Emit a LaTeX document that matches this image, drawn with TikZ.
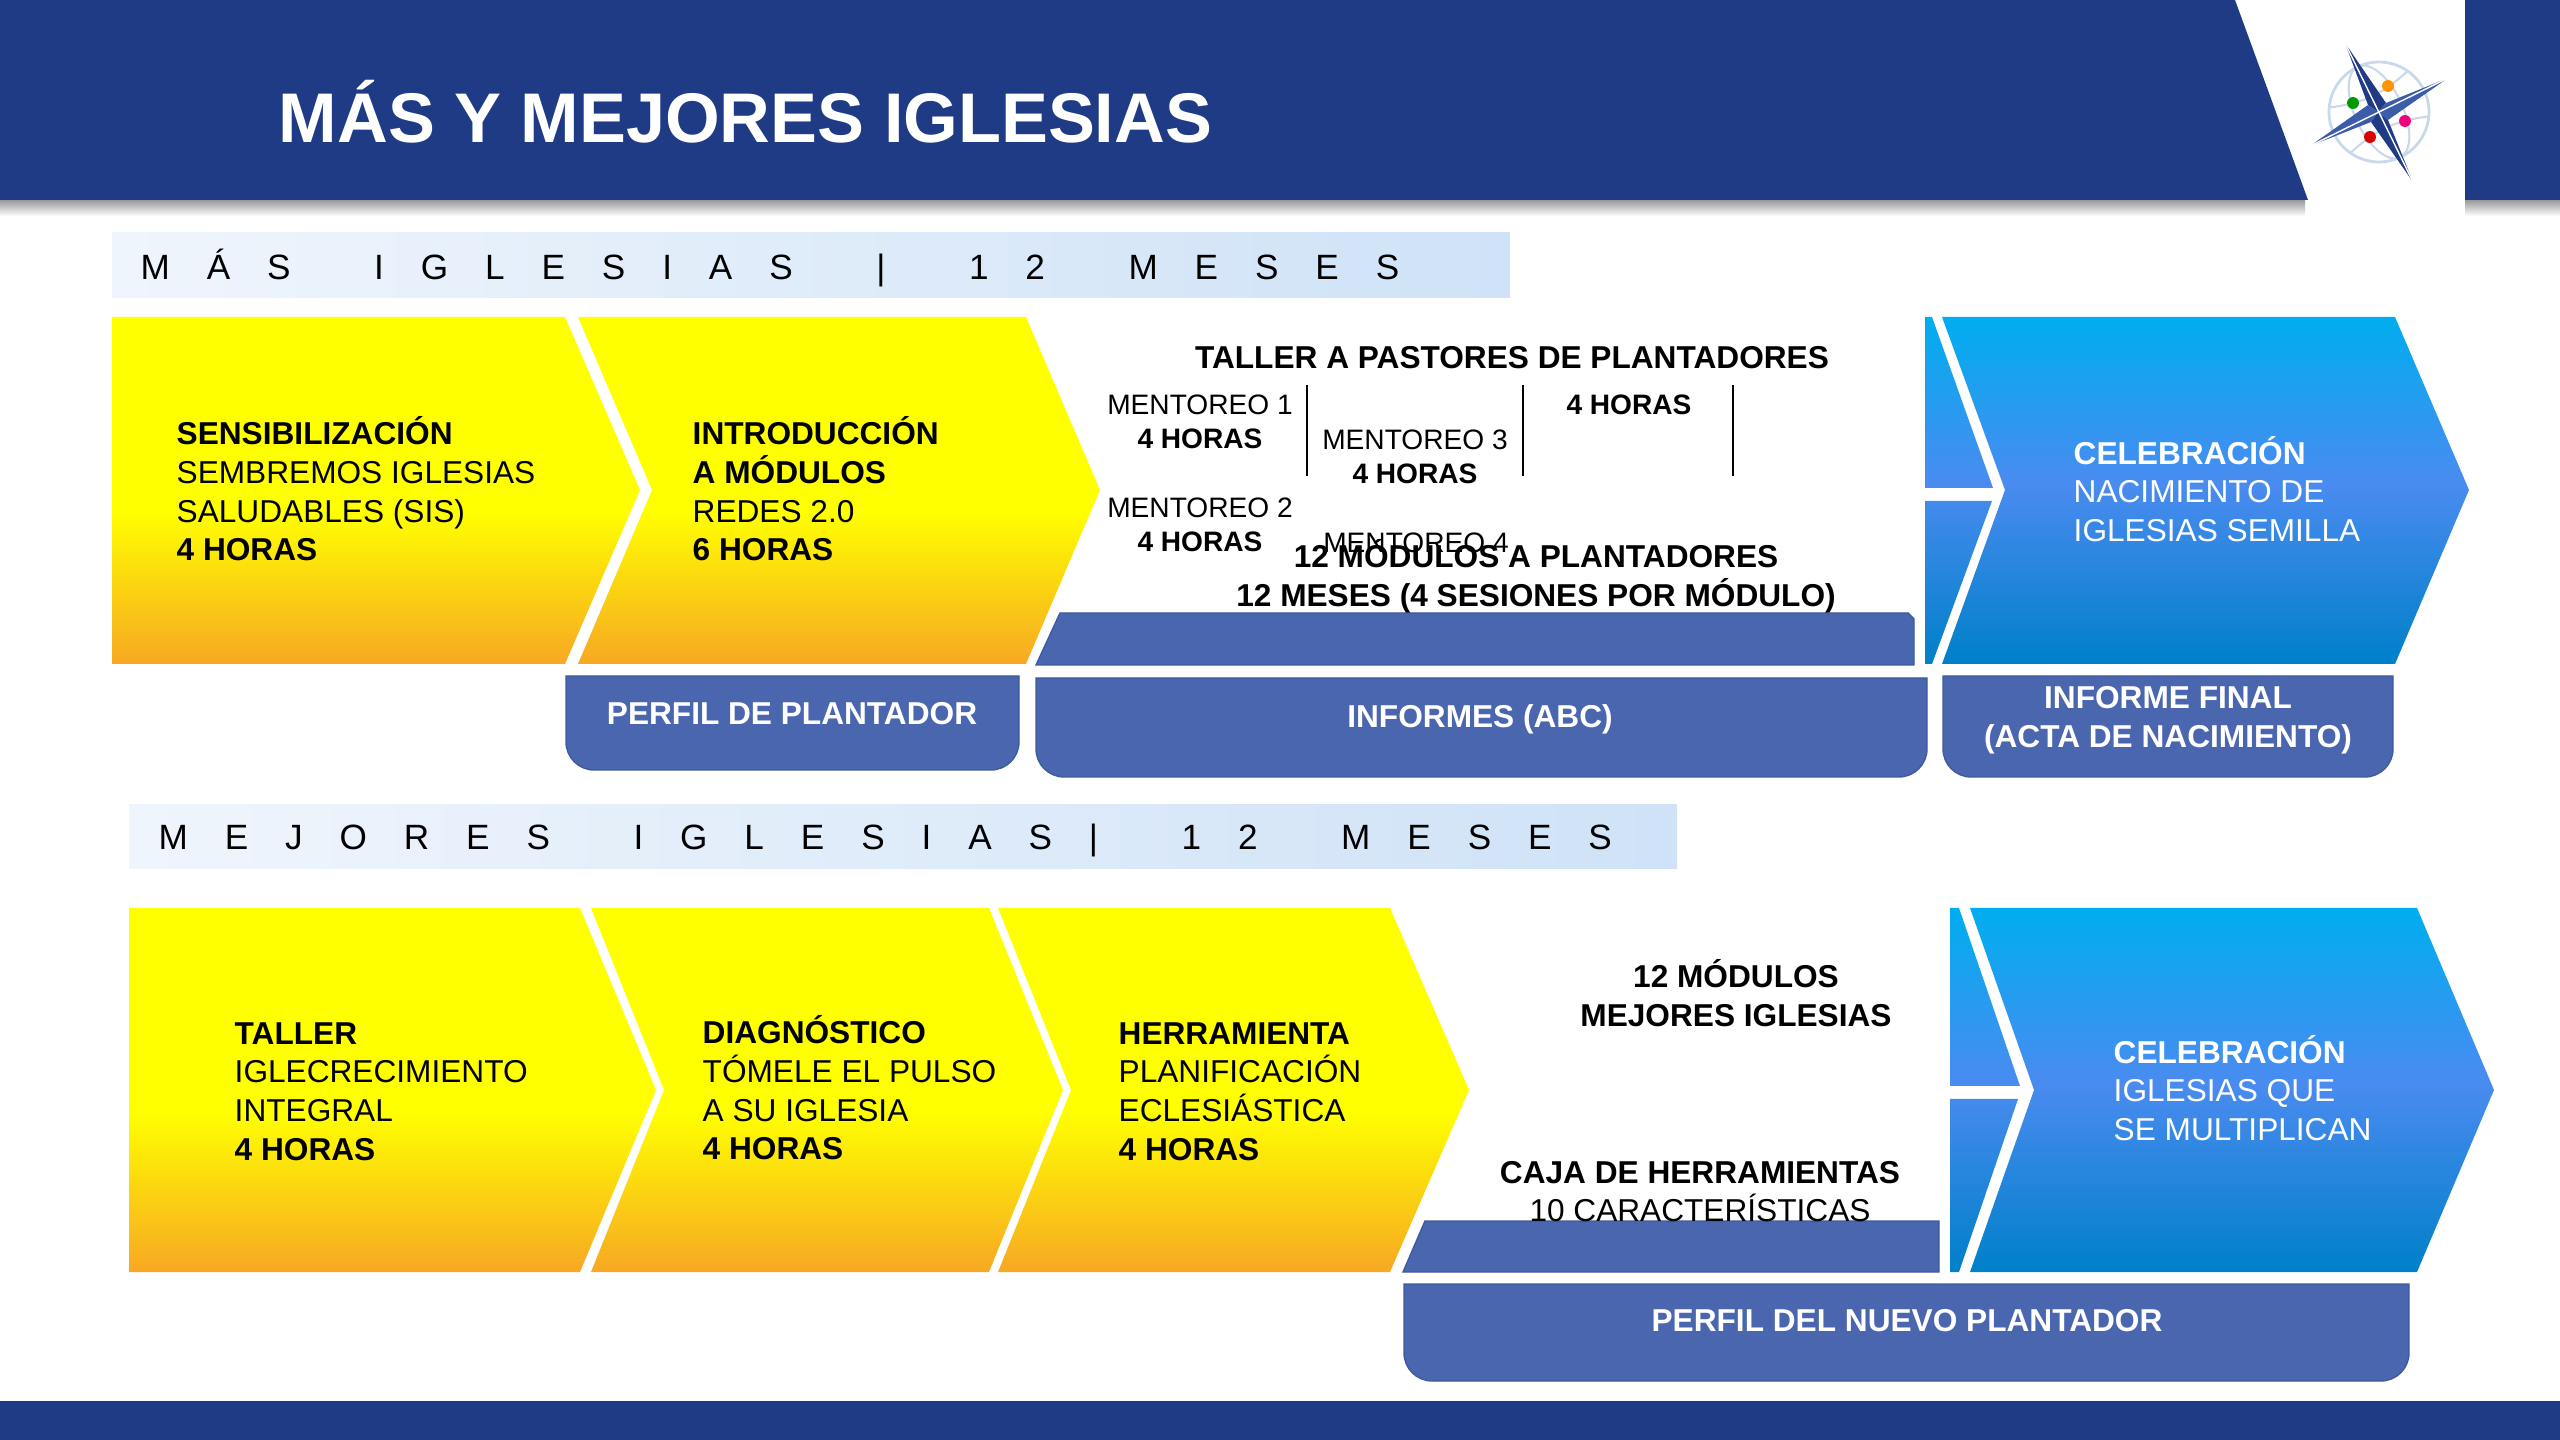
\documentclass[tikz,border=0pt]{standalone}
\usepackage{fontspec}
\setmainfont{Liberation Sans}
\newfontfamily\spacedfont[LetterSpace=105]{Liberation Sans}
\newcommand{\widegap}{\ \hspace{10.5pt}}
\definecolor{navyband}{HTML}{203B85}
\definecolor{boxblue}{HTML}{4A66AE}
\definecolor{boxedge}{HTML}{3F5A9E}
\definecolor{globeline}{HTML}{C9D9EA}
\definecolor{starlight}{HTML}{3B5CA8}
\definecolor{ambar}{HTML}{F7A823}
\definecolor{skytop}{HTML}{00AEEF}
\definecolor{skymid}{HTML}{4A8BF0}
\definecolor{skylow}{HTML}{0080C8}
\definecolor{barleft}{HTML}{EFF5FC}
\definecolor{barright}{HTML}{CFE2F7}
\pgfdeclareverticalshading{yellowfade}{100bp}{color(0bp)=(ambar); color(25bp)=(ambar); color(47bp)=(yellow); color(100bp)=(yellow)}
\pgfdeclareverticalshading{skyfade}{100bp}{color(0bp)=(skylow); color(25bp)=(skylow); color(51bp)=(skymid); color(75bp)=(skytop); color(100bp)=(skytop)}
\tikzset{
  yellowarrow/.style={shading=yellowfade},
  skyarrow/.style={shading=skyfade},
  headbar/.style={left color=barleft,right color=barright},
  bluebox/.style={fill=boxblue,draw=boxedge,line width=.4pt},
  bandshadow/.style={top color=black!40,bottom color=white},
  textblock/.style={anchor=west,align=left,inner sep=0pt,font=\fontsize{9}{11}\selectfont},
  midblock/.style={align=center,inner sep=0pt,font=\fontsize{9}{11}\selectfont},
  smallblock/.style={align=center,inner sep=0pt,font=\fontsize{8}{9.7}\selectfont},
  boxlabel/.style={align=center,inner sep=0pt,text=white,font=\fontsize{9}{11}\selectfont\bfseries},
  barlabel/.style={anchor=west,inner sep=0pt,font=\fontsize{10}{12}\spacedfont},
  dot/.style={circle,inner sep=0pt,minimum size=3.4pt}
}
\begin{document}
\begin{tikzpicture}[x=0.1mm,y=-0.1mm]
\useasboundingbox (0,0) rectangle (2560,1440);
% bands
\shade[bandshadow] (0,200) rectangle (2305,216);
\shade[bandshadow] (2465,200) rectangle (2560,216);
\fill[navyband] (0,0) -- (2235,0) -- (2308,200) -- (0,200) -- cycle;
\fill[navyband] (2465,0) rectangle (2560,200);
\fill[navyband] (0,1401) rectangle (2560,1440);
\node[anchor=west,inner sep=0pt,text=white,font=\fontsize{20}{24}\selectfont\bfseries] (title) at (278,112) {MÁS Y MEJORES IGLESIAS};
% logo
\begin{scope}[shift={(2379,112)},rotate=25]
\draw[globeline,line width=.8pt] (0,0) circle [radius=50];
\draw[globeline,line width=.6pt] (0,0) ellipse [x radius=24,y radius=50];
\draw[globeline,line width=.6pt] (-43,-25) to[bend right=18] (43,-25);
\draw[globeline,line width=.6pt] (-43,25) to[bend left=18] (43,25);
\end{scope}
\node[dot,fill=orange!85!yellow] (dotorange) at (2388,86) {};
\node[dot,fill=green!60!black] (dotgreen) at (2353,103) {};
\node[dot,fill=magenta!85!red] (dotpink) at (2405,121) {};
\node[dot,fill=red!85!black] (dotred) at (2370,137) {};
\fill[navyband] (2345,43) -- (2386,103) -- (2378,112) -- (2368,105) -- cycle;
\fill[navyband] (2413,182) -- (2371,122) -- (2378,112) -- (2388,120) -- cycle;
\fill[starlight] (2448,78) -- (2386,103) -- (2378,112) -- (2388,120) -- cycle;
\fill[starlight] (2310,146) -- (2371,122) -- (2378,112) -- (2368,105) -- cycle;
\draw[white,line width=.4pt] (2345,43) -- (2413,182);
\draw[white,line width=.4pt] (2448,78) -- (2310,146);
% section bars
\shade[headbar] (112,233) rectangle (1510,298);
\shade[headbar] (129,805) rectangle (1677,869);
\node[barlabel] (barmas) at (140,268) {MÁS\widegap IGLESIAS\widegap |\widegap 12\widegap MESES};
\node[barlabel] (barmejores) at (158,840) {MEJORES\widegap IGLESIAS|\widegap 12\widegap MESES};
% first row
\shade[yellowarrow] (112,317) -- (565,317) -- (640,490) -- (565,664) -- (112,664) -- cycle;
\shade[yellowarrow] (578,317) -- (1026,317) -- (1100,490) -- (1026,664) -- (578,664) -- (652,490) -- cycle;
\shade[skyarrow] (1942,317) -- (2395,317) -- (2469,490) -- (2395,664) -- (1942,664) -- (2005,490) -- cycle
  (1925,317) -- (1932,317) -- (1993,488) -- (1925,488) -- cycle
  (1925,501) -- (1992,501) -- (1932,664) -- (1925,664) -- cycle;
\draw[bluebox] (1036,665) -- (1060,613) -- (1908,613) -- (1914,619) -- (1914,665) -- cycle;
\draw[bluebox] (566,676) -- (1019,676) [rounded corners=8pt] -- (1019,770) -- (566,770) [sharp corners] -- cycle;
\draw[bluebox] (1036,678) -- (1927,678) [rounded corners=8pt] -- (1927,777) -- (1036,777) [sharp corners] -- cycle;
\draw[bluebox] (1943,676) -- (2393,676) [rounded corners=8pt] -- (2393,777) -- (1943,777) [sharp corners] -- cycle;
\draw (1307,385) -- (1307,476);
\draw (1523,385) -- (1523,476);
\draw (1733,385) -- (1733,476);
\node[textblock] (sensibilizacion) at (176,489) {\textbf{SENSIBILIZACIÓN}\\SEMBREMOS IGLESIAS\\SALUDABLES (SIS)\\\textbf{4 HORAS}};
\node[textblock] (introduccion) at (692,489) {\textbf{INTRODUCCIÓN}\\\textbf{A MÓDULOS}\\REDES 2.0\\\textbf{6 HORAS}};
\node[textblock,text=white] (celebracionuno) at (2073,489) {\textbf{CELEBRACIÓN}\\NACIMIENTO DE\\IGLESIAS SEMILLA};
\node[midblock,font=\fontsize{9}{11}\selectfont\bfseries] (tallerpastores) at (1512,358) {TALLER A PASTORES DE PLANTADORES};
\node[smallblock] (mentoreouno) at (1200,422) {MENTOREO 1\\\textbf{4 HORAS}};
\node[smallblock] (mentoreodos) at (1200,525) {MENTOREO 2\\\textbf{4 HORAS}};
\node[smallblock] (mentoreotres) at (1415,457) {MENTOREO 3\\\textbf{4 HORAS}};
\node[smallblock] (mentoreocuatro) at (1416,543) {MENTOREO 4};
\node[smallblock] (horascuatro) at (1629,405) {\textbf{4 HORAS}};
\node[midblock,font=\fontsize{9}{11}\selectfont\bfseries] (modulos) at (1536,576) {12 MÓDULOS A PLANTADORES\\12 MESES (4 SESIONES POR MÓDULO)};
\node[boxlabel] (perfil) at (792,714) {PERFIL DE PLANTADOR};
\node[boxlabel] (informes) at (1480,719) {INFORMES (ABC)};
\node[boxlabel] (informefinal) at (2168,720) {INFORME FINAL\\(ACTA DE NACIMIENTO)};
% second row
\shade[yellowarrow] (129,908) -- (580,908) -- (656,1090) -- (580,1272) -- (129,1272) -- cycle;
\shade[yellowarrow] (591,908) -- (989,908) -- (1063,1090) -- (989,1272) -- (591,1272) -- (664,1090) -- cycle;
\shade[yellowarrow] (998,908) -- (1390,908) -- (1469,1090) -- (1390,1272) -- (998,1272) -- (1071,1090) -- cycle;
\shade[skyarrow] (1970,908) -- (2417,908) -- (2494,1090) -- (2417,1272) -- (1970,1272) -- (2034,1090) -- cycle
  (1950,908) -- (1959,908) -- (2020,1086) -- (1950,1086) -- cycle
  (1950,1099) -- (2018,1099) -- (1959,1272) -- (1950,1272) -- cycle;
\draw[bluebox] (1403,1272) -- (1425,1221) -- (1939,1221) -- (1939,1272) -- cycle;
\draw[bluebox] (1404,1284) -- (2409,1284) [rounded corners=8pt] -- (2409,1381) -- (1404,1381) [sharp corners] -- cycle;
\node[textblock] (tallerintegral) at (234,1091.5) {\textbf{TALLER}\\IGLECRECIMIENTO\\INTEGRAL\\\textbf{4 HORAS}};
\node[textblock] (diagnostico) at (702,1088) {\textbf{DIAGNÓSTICO}\\TÓMELE EL PULSO\\A SU IGLESIA\\\textbf{4 HORAS}};
\node[textblock] (herramienta) at (1118,1091.5) {\textbf{HERRAMIENTA}\\PLANIFICACIÓN\\ECLESIÁSTICA\\\textbf{4 HORAS}};
\node[textblock,text=white] (celebraciondos) at (2113,1088) {\textbf{CELEBRACIÓN}\\IGLESIAS QUE\\SE MULTIPLICAN};
\node[midblock,font=\fontsize{9}{11}\selectfont\bfseries] (docemodulos) at (1736,993) {12 MÓDULOS\\MEJORES IGLESIAS};
\node[midblock] (caja) at (1700,1191.5) {\textbf{CAJA DE HERRAMIENTAS}\\10 CARACTERÍSTICAS};
\node[boxlabel] (nuevoplantador) at (1907,1321) {PERFIL DEL NUEVO PLANTADOR};
\end{tikzpicture}
\end{document}
